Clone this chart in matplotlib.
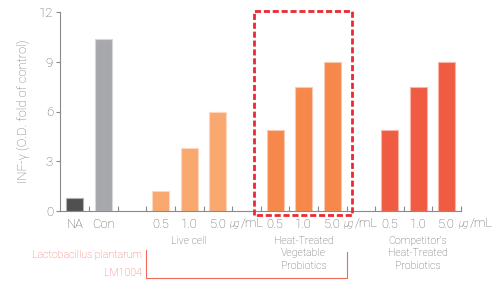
import matplotlib
matplotlib.use("Agg")
import matplotlib.pyplot as plt
from matplotlib.colors import to_rgb
from matplotlib.transforms import offset_copy
import numpy as np

plt.rcParams['font.family'] = ['Roboto', 'DejaVu Sans']

# Data
positions = [0, 1, 3, 4, 5, 7, 8, 9, 11, 12, 13]
tick_labels = ["NA", "Con", "0.5", "1.0", "5.0", "0.5", "1.0", "5.0", "0.5", "1.0", "5.0"]
values = [0.8, 10.35, 1.2, 3.8, 6.0, 4.9, 7.5, 9.0, 4.9, 7.5, 9.0]
colors = ["#505050", "#a7a8ab",
          "#f9a870", "#f9a870", "#f9a870",
          "#f5884a", "#f5884a", "#f5884a",
          "#f05c42", "#f05c42", "#f05c42"]
unit_positions = [5, 9, 13]
unit_prefix = "μg"
unit_suffix = "/mL"
group_labels = ["Live cell", "Heat-Treated\nVegetable\nProbiotics", "Competitor's\nHeat-Treated\nProbiotics"]
group_centers = [4, 8, 12]
ylabel = "INF-γ (O.D. fold of control)"
yticks = [0, 3, 6, 9, 12]

txt = "#5a5a5a"
axc = "#8a8a8a"

fig = plt.figure(figsize=(4.98, 2.83), dpi=100)
ax = fig.add_axes([60/498, 72/283, 401/498, 199/283])

def lighten(c, f=0.5):
    r, g, b = to_rgb(c)
    return (r + (1-r)*f, g + (1-g)*f, b + (1-b)*f)

for p, v, c in zip(positions, values, colors):
    ax.bar(p, v, width=0.6, color=c, edgecolor=lighten(c, 0.55), linewidth=0.8, zorder=2)

ax.set_xlim(-0.52, 13.5)
ax.set_ylim(0, 12)
ax.set_yticks(yticks)
ax.set_yticklabels([str(t) for t in yticks], color=txt, fontsize=9.5, fontweight='light')
ax.tick_params(axis='y', direction='out', length=3, color=axc, pad=2)

ax.set_xticks(positions)
ax.set_xticklabels(tick_labels, color=txt, fontsize=9.3, fontweight='light')
ax.tick_params(axis='x', which='major', length=0, pad=5)
ax.set_xticks(np.arange(0.5, 13.6, 1.0), minor=True)
ax.tick_params(axis='x', which='minor', direction='in', length=3.5, color=axc, width=0.8)

for s in ['top', 'right']:
    ax.spines[s].set_visible(False)
for s in ['left', 'bottom']:
    ax.spines[s].set_color(axc)
    ax.spines[s].set_linewidth(0.8)

ax.set_ylabel(ylabel, color="#6a6a6a", fontsize=9.3, fontweight='light', labelpad=6)

# unit labels (μg small italic, then /mL)
for up in unit_positions:
    t1 = ax.text(up + 0.39, -0.78, unit_prefix, ha='left', va='center', fontsize=7,
                 style='italic', color=txt, fontweight='light', clip_on=False)
    tr = offset_copy(ax.transData, fig=fig, x=8.3, y=0, units='points')
    ax.text(up + 0.39, -0.78, unit_suffix, ha='left', va='center', fontsize=9.3,
            color=txt, fontweight='light', clip_on=False, transform=tr)

# group labels
for gc, gl in zip(group_centers, group_labels):
    ax.text(gc, -1.5, gl, ha='center', va='top', fontsize=7.6, color=txt,
            fontweight='light', linespacing=1.3, clip_on=False)

# dashed box
ax.plot([6.26, 6.26, 9.69, 9.69, 6.26], [-0.25, 12.06, 12.06, -0.25, -0.25],
        color="#ea2a33", lw=2, ls=(0, (2.2, 1.0)), clip_on=False, zorder=5)

# red annotation
red = "#f06a5a"
ax.text(2.35, -2.66, "Lactobacillus plantarum", ha='right', va='center', fontsize=7.7,
        color=red, fontweight='light', clip_on=False)
ax.text(2.35, -3.73, "LM1004", ha='right', va='center', fontsize=7.7,
        color=red, fontweight='light', clip_on=False)
ax.plot([2.5, 2.5, 9.52, 9.52], [-2.35, -4.05, -4.05, -2.45], color=red, lw=0.8,
        clip_on=False)

fig.savefig("out.png", dpi=100)
